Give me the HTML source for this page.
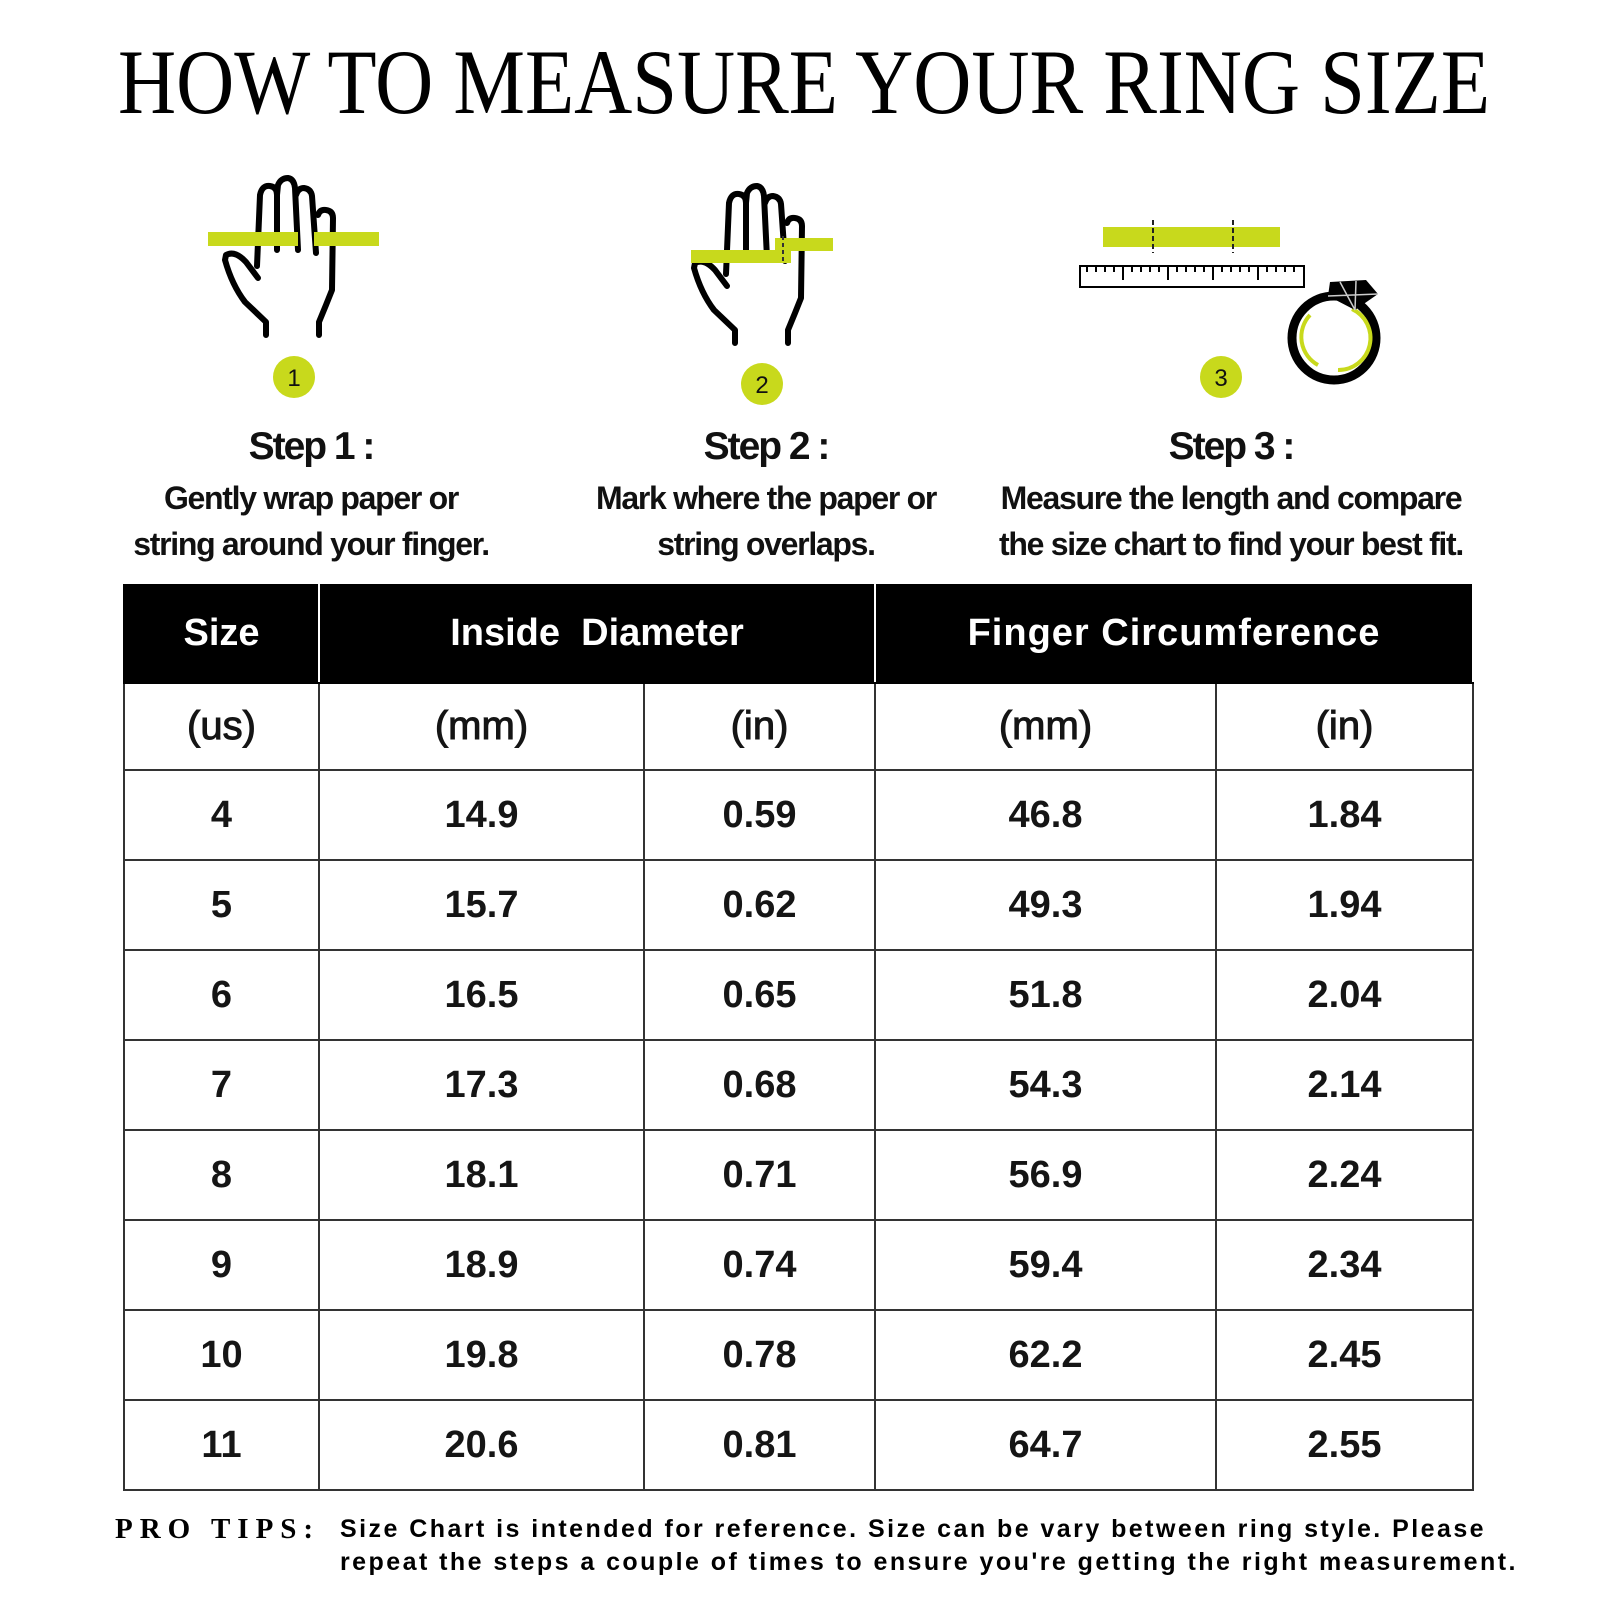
<!DOCTYPE html>
<html><head><meta charset="utf-8">
<style>
html,body{margin:0;padding:0;background:#fff;}
body{width:1600px;height:1600px;position:relative;overflow:hidden;font-family:"Liberation Sans",sans-serif;}
.abs{position:absolute;}
.step{position:absolute;width:560px;text-align:center;color:#111;font-weight:bold;}
.step h2{margin:0;font-size:39px;letter-spacing:-2px;line-height:44px;}
.step p{margin:6px 0 0;font-size:32px;letter-spacing:-1.3px;line-height:46px;}
table{position:absolute;left:123px;top:582px;border-collapse:collapse;table-layout:fixed;}
td,th{border:2px solid #333;text-align:center;font-weight:bold;font-size:38px;color:#151515;padding:0;}
th{background:#000;color:#fff;height:98px;border-color:#fff #fff #000 #000;font-size:38px;}
tr.units td{height:85px;font-weight:normal;font-size:40px;-webkit-text-stroke:1px #151515;}
tr.row td{height:88px;}
.tips{position:absolute;left:115px;top:1513px;font-size:25px;font-weight:bold;}
</style></head><body>
<svg class="abs" style="left:0;top:0" width="1600" height="130">
<text x="118" y="113" textLength="1372" lengthAdjust="spacingAndGlyphs" font-family="Liberation Serif, serif" font-size="92" fill="#000">HOW TO MEASURE YOUR RING SIZE</text>
</svg>

<svg class="abs" style="left:0;top:0" width="1600" height="420">
<g fill="none" stroke="#000" stroke-width="6" stroke-linecap="round" stroke-linejoin="round">
<path d="M266,335 L266,322 L245,302 Q232,285 225,260 L226,255 Q235,250 246,262 L258,278"/>
<path d="M257,266 L260,195 Q262,185 270,186 Q277,187 277,195 L277,250"/>
<path d="M277,195 L278,185 Q281,178 288,178 Q294,179 295,188 L298,250"/>
<path d="M296,195 Q298,188 304,188 Q311,189 312,196 L316,253"/>
<path d="M318,215 Q320,209 326,210 Q333,211 333,218 L332,290 L326,305 L319,322 L319,335"/>
</g>
<rect x="208" y="232" width="90" height="14" fill="#c8d91c"/>
<rect x="314" y="232" width="65" height="14" fill="#c8d91c"/>
<circle cx="294" cy="377" r="21" fill="#c8d91c"/>
<text x="294" y="386" text-anchor="middle" font-size="24" font-family="Liberation Sans" fill="#111">1</text>

<g fill="none" stroke="#000" stroke-width="6" stroke-linecap="round" stroke-linejoin="round">
<path d="M735,343 L735,330 L714,310 Q701,293 694,268 L695,263 Q704,258 715,270 L727,286"/>
<path d="M726,274 L729,203 Q731,193 739,194 Q746,195 746,203 L746,258"/>
<path d="M746,203 L747,193 Q750,186 757,186 Q763,187 764,196 L767,258"/>
<path d="M765,203 Q767,196 773,196 Q780,197 781,204 L785,261"/>
<path d="M787,223 Q789,217 795,218 Q802,219 802,226 L801,298 L795,313 L788,330 L788,343"/>
</g>
<rect x="691" y="250" width="100" height="13" fill="#c8d91c"/>
<rect x="775" y="238" width="58" height="13" fill="#c8d91c"/>
<line x1="783" y1="236" x2="783" y2="264" stroke="#333" stroke-width="2" stroke-dasharray="4,3"/>
<circle cx="762" cy="384" r="21" fill="#c8d91c"/>
<text x="762" y="393" text-anchor="middle" font-size="24" font-family="Liberation Sans" fill="#111">2</text>

<rect x="1103" y="227" width="177" height="20" fill="#c8d91c"/>
<line x1="1153" y1="220" x2="1153" y2="253" stroke="#222" stroke-width="2" stroke-dasharray="5,3"/>
<line x1="1233" y1="220" x2="1233" y2="253" stroke="#222" stroke-width="2" stroke-dasharray="5,3"/>
<rect x="1080" y="266" width="224" height="21" fill="#fff" stroke="#000" stroke-width="2"/>
<path d="M1087,267v5M1096,267v5M1105,267v5M1114,267v5M1123,267v13M1132,267v5M1141,267v5M1150,267v5M1159,267v5M1168,267v13M1177,267v5M1186,267v5M1195,267v5M1204,267v5M1213,267v13M1222,267v5M1231,267v5M1240,267v5M1249,267v5M1258,267v13M1267,267v5M1276,267v5M1285,267v5M1294,267v5" stroke="#000" stroke-width="2"/>
<circle cx="1334" cy="338" r="42" fill="none" stroke="#000" stroke-width="9"/>
<path d="M1310,315 A32,32 0 0,0 1318,365" fill="none" stroke="#c8d91c" stroke-width="4"/>
<path d="M1352,309 A32,32 0 0,1 1338,370" fill="none" stroke="#c8d91c" stroke-width="4"/>
<polygon points="1330,282 1366,280 1378,294 1355,310 1328,296" fill="#000"/>
<path d="M1328,296 L1378,294 M1340,282 L1355,310 M1356,281 L1355,310" stroke="#ccc" stroke-width="1.5"/>
<circle cx="1221" cy="377" r="21" fill="#c8d91c"/>
<text x="1221" y="386" text-anchor="middle" font-size="24" font-family="Liberation Sans" fill="#111">3</text>
</svg>

<div class="step" style="left:31px;top:425px"><h2>Step 1 :</h2><p>Gently wrap paper or<br>string around your finger.</p></div>
<div class="step" style="left:486px;top:425px"><h2>Step 2 :</h2><p>Mark where the paper or<br>string overlaps.</p></div>
<div class="step" style="left:951px;top:425px"><h2>Step 3 :</h2><p>Measure the length and compare<br>the size chart to find your best fit.</p></div>

<table>
<colgroup><col style="width:195px"><col style="width:325px"><col style="width:231px"><col style="width:341px"><col style="width:257px"></colgroup>
<tr><th>Size</th><th colspan="2">Inside&nbsp; Diameter</th><th colspan="2" style="letter-spacing:1px">Finger Circumference</th></tr>
<tr class="units"><td>(us)</td><td>(mm)</td><td>(in)</td><td>(mm)</td><td>(in)</td></tr>
<tbody id="rows"></tbody>
</table>

<div class="tips">
<span style="position:absolute;left:0;top:0px;font-family:'Liberation Serif',serif;font-size:29px;letter-spacing:7px;white-space:nowrap">PRO TIPS:</span>
<div style="position:absolute;left:225px;top:0;width:1300px;letter-spacing:2.45px;line-height:33px;white-space:nowrap">Size Chart is intended for reference. Size can be vary between ring style. Please<br>repeat the steps a couple of times to ensure you're getting the right measurement.</div>
</div>

<script>
const sizes=["4","5","6","7","8","9","10","11"];
const diaMm=["14.9","15.7","16.5","17.3","18.1","18.9","19.8","20.6"];
const diaIn=["0.59","0.62","0.65","0.68","0.71","0.74","0.78","0.81"];
const circMm=["46.8","49.3","51.8","54.3","56.9","59.4","62.2","64.7"];
const circIn=["1.84","1.94","2.04","2.14","2.24","2.34","2.45","2.55"];
const tb=document.getElementById('rows');
sizes.forEach((s,i)=>{
  const tr=document.createElement('tr');
  tr.className='row';
  
  
  [s,diaMm[i],diaIn[i],circMm[i],circIn[i]].forEach(v=>{
    const td=document.createElement('td');
    td.textContent=v;
    
    
    tr.appendChild(td);
  });
  tb.appendChild(tr);
});
</script>
</body></html>
